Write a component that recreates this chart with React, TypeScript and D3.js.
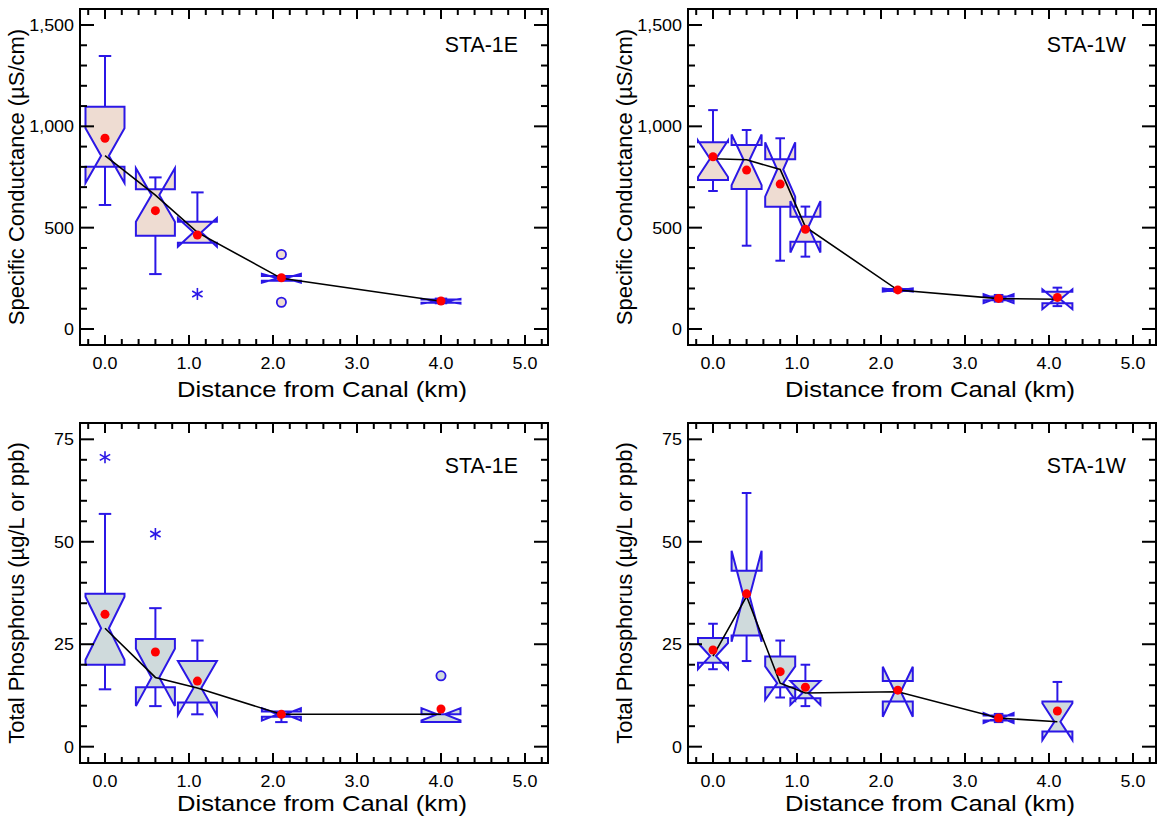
import React from 'react';
import * as d3 from 'd3';

// ---------- DATA ----------
// stats rows: [min, q1, median, q3, max, notchHalfWidth, mean]
const SC_E_DIST = [0.0, 0.6, 1.1, 2.1, 4.0];
const SC_E_STATS = [
  [612, 800, 855, 1097, 1347, 135, 941],
  [271, 460, 661, 690, 748, 132, 584],
  [426, 426, 477, 529, 674, 71, 464],
  [238, 238, 250, 262, 262, 22, 253],
  [127, 130, 137, 145, 150, 12, 138],
];
const SC_E_OUTLIERS: [number, number, string][] = [
  [1.1, 173, 'star'],
  [2.1, 368, 'circle'],
  [2.1, 132, 'circle'],
];

const SC_W_DIST = [0.0, 0.4, 0.8, 1.1, 2.2, 3.4, 4.1];
const SC_W_STATS = [
  [681, 735, 840, 921, 1080, 90, 850],
  [411, 691, 835, 908, 982, 125, 784],
  [337, 603, 787, 837, 941, 134, 715],
  [357, 431, 504, 554, 604, 127, 492],
  [185, 187, 192, 197, 199, 8, 193],
  [135, 142, 150, 160, 168, 22, 151],
  [113, 127, 147, 184, 204, 49, 156],
];
const SC_W_OUTLIERS: [number, number, string][] = [];

const TP_E_DIST = [0.0, 0.6, 1.1, 2.1, 4.0];
const TP_E_STATS = [
  [14, 20, 28.9, 37.3, 56.8, 7.7, 32.3],
  [9.9, 14.5, 16.9, 26.3, 33.8, 7.0, 23.1],
  [7.9, 10.8, 14.3, 20.9, 25.9, 6.6, 16.0],
  [6.0, 7.3, 7.9, 8.6, 8.6, 1.5, 7.9],
  [6.0, 6.0, 7.9, 7.9, 7.9, 1.5, 9.2],
];
const TP_E_OUTLIERS: [number, number, string][] = [
  [0.0, 70.6, 'star'],
  [0.6, 51.9, 'star'],
  [4.0, 17.3, 'circle'],
];

const TP_W_DIST = [0.0, 0.4, 0.8, 1.1, 2.2, 3.4, 4.1];
const TP_W_STATS = [
  [18.9, 20.5, 22.1, 26.5, 30.0, 3.2, 23.6],
  [20.9, 27.1, 36.7, 42.9, 61.9, 11.1, 37.3],
  [12.0, 14.5, 15.5, 22.0, 25.9, 4.1, 18.3],
  [9.9, 11.8, 13.1, 16.0, 20.0, 2.9, 14.5],
  [11.0, 11.0, 13.4, 16.0, 16.0, 6.1, 13.8],
  [6.0, 6.4, 7.0, 7.6, 8.0, 1.2, 7.0],
  [3.7, 3.7, 6.1, 11.0, 15.8, 4.5, 8.7],
];
const TP_W_OUTLIERS: [number, number, string][] = [];

const X_TICKS = [0, 1, 2, 3, 4, 5];
const X_TICK_LABELS = ['0.0', '1.0', '2.0', '3.0', '4.0', '5.0'];
const SC_TICKS = [0, 500, 1000, 1500];
const SC_TICK_LABELS = ['0', '500', '1,000', '1,500'];
const TP_TICKS = [0, 25, 50, 75];
const TP_TICK_LABELS = ['0', '25', '50', '75'];

const X_TITLE = 'Distance from Canal (km)';
const SC_TITLE = 'Specific Conductance (µS/cm)';
const TP_TITLE = 'Total Phosphorus (µg/L or ppb)';

// ---------- STYLE ----------
const FONT = '"Liberation Sans", Arial, Helvetica, sans-serif';
const BLUE = '#2b17e6';
const FILL_SC = '#eedcd2';
const FILL_TP = '#cfdadc';

function SText(props: {
  x: number; y: number; size: number; anchor?: string; sx?: number; rotate?: boolean; children: any;
}) {
  const { x, y, size, anchor = 'middle', sx = 1, rotate = false, children } = props;
  return (
    <g transform={`translate(${x},${y})${rotate ? ' rotate(-90)' : ''} scale(${sx},1)`}>
      <text x={0} y={0} textAnchor={anchor} fontSize={size} fontFamily={FONT} fill="#000">
        {children}
      </text>
    </g>
  );
}

type PanelProps = {
  left: number; top: number; width: number; height: number;
  yDomain: [number, number]; yMinor: number; yMax: number;
  yTicks: number[]; yTickLabels: string[];
  dists: number[]; stats: number[][]; outliers: [number, number, string][];
  fill: string; boxW: number; label: string; yTitle: string;
  titleOffset: number; labelOffset: number;
};

function Panel(p: PanelProps) {
  const x = d3.scaleLinear().domain([-0.2976, 5.274]).range([p.left, p.left + p.width]);
  const y = d3.scaleLinear().domain(p.yDomain).range([p.top + p.height, p.top]);
  const right = p.left + p.width;
  const bottom = p.top + p.height;

  const xMinor = d3.range(-1, 27).map((i) => +(i * 0.2).toFixed(4)).filter((v) => x(v) > p.left + 1 && x(v) < right - 1);
  const yMinor = d3.range(0, p.yMax + 1e-6, p.yMinor).filter((v) => y(v) > p.top + 1 && y(v) < bottom - 1);
  const isMajorX = (v: number) => Math.abs(v - Math.round(v)) < 1e-6;
  const isMajorY = (v: number) => p.yTicks.some((t) => Math.abs(t - v) < 1e-6);

  const line = d3.line<number>()
    .x((_, i) => x(p.dists[i]))
    .y((d) => y(d));
  const medians = p.stats.map((s) => s[2]);

  const cap = p.boxW * 0.32;

  return (
    <g>
      {/* whiskers */}
      {p.stats.map((s, i) => {
        const cx = x(p.dists[i]);
        const [mn, q1, , q3, mx] = s;
        return (
          <g key={'w' + i} stroke={BLUE} strokeWidth={2}>
            {mx > q3 && <line x1={cx} x2={cx} y1={y(q3)} y2={y(mx)} />}
            {mx > q3 && <line x1={cx - cap / 2} x2={cx + cap / 2} y1={y(mx)} y2={y(mx)} />}
            {mn < q1 && <line x1={cx} x2={cx} y1={y(q1)} y2={y(mn)} />}
            {mn < q1 && <line x1={cx - cap / 2} x2={cx + cap / 2} y1={y(mn)} y2={y(mn)} />}
          </g>
        );
      })}
      {/* notched boxes */}
      {p.stats.map((s, i) => {
        const cx = x(p.dists[i]);
        const [, q1, med, q3, , nh] = s;
        const x0 = cx - p.boxW / 2;
        const x1 = cx + p.boxW / 2;
        const ins = p.boxW * 0.4;
        const pts: [number, number][] = [
          [x0, y(q3)], [x0, y(med + nh)], [x0 + ins, y(med)], [x0, y(med - nh)], [x0, y(q1)],
          [x1, y(q1)], [x1, y(med - nh)], [x1 - ins, y(med)], [x1, y(med + nh)], [x1, y(q3)],
        ];
        return (
          <polygon key={'b' + i} points={pts.map((q) => q.join(',')).join(' ')}
            fill={p.fill} stroke={BLUE} strokeWidth={2} strokeLinejoin="miter" />
        );
      })}
      {/* outliers */}
      {p.outliers.map((o, i) => {
        const cx = x(o[0]);
        const cy = y(o[1]);
        if (o[2] === 'circle') {
          return <circle key={'o' + i} cx={cx} cy={cy} r={4.6} fill={p.fill} stroke={BLUE} strokeWidth={1.8} />;
        }
        const r = 6;
        return (
          <g key={'o' + i} stroke={BLUE} strokeWidth={1.6}>
            {[90, 30, 150].map((a) => {
              const rad = (a * Math.PI) / 180;
              return <line key={a} x1={cx - r * Math.cos(rad)} y1={cy - r * Math.sin(rad)} x2={cx + r * Math.cos(rad)} y2={cy + r * Math.sin(rad)} />;
            })}
          </g>
        );
      })}
      {/* median connecting line */}
      <path d={line(medians) || ''} fill="none" stroke="#000" strokeWidth={1.6} />
      {/* means */}
      {p.stats.map((s, i) => (
        <circle key={'m' + i} cx={x(p.dists[i])} cy={y(s[6])} r={4.5} fill="#ff0000" />
      ))}

      {/* frame */}
      <rect x={p.left} y={p.top} width={p.width} height={p.height} fill="none" stroke="#000" strokeWidth={2} />
      {/* x ticks */}
      {xMinor.map((v) => {
        const len = isMajorX(v) ? 10 : 6;
        const xx = x(v);
        return (
          <g key={'xt' + v} stroke="#000" strokeWidth={2}>
            <line x1={xx} x2={xx} y1={bottom} y2={bottom - len} />
            <line x1={xx} x2={xx} y1={p.top} y2={p.top + len} />
          </g>
        );
      })}
      {/* y ticks */}
      {yMinor.map((v) => {
        const len = isMajorY(v) ? 14 : 7;
        const yy = y(v);
        return (
          <g key={'yt' + v} stroke="#000" strokeWidth={2}>
            <line x1={p.left} x2={p.left + len} y1={yy} y2={yy} />
            <line x1={right} x2={right - len} y1={yy} y2={yy} />
          </g>
        );
      })}
      {/* tick labels */}
      {X_TICKS.map((v, i) => (
        <SText key={'xl' + v} x={x(v)} y={bottom + 24} size={16} sx={1.12}>{X_TICK_LABELS[i]}</SText>
      ))}
      {p.yTicks.map((v, i) => (
        <SText key={'yl' + v} x={p.left - 6} y={y(v) + 6} size={16} sx={1.12} anchor="end">{p.yTickLabels[i]}</SText>
      ))}
      {/* titles */}
      <SText x={p.left + p.width / 2 + 8} y={bottom + p.titleOffset} size={21.5} sx={1.19}>{X_TITLE}</SText>
      <SText x={p.left - 56} y={p.top + p.height / 2} size={22} rotate>{p.yTitle}</SText>
      <SText x={right - 30} y={p.top + p.labelOffset} size={23} sx={0.93} anchor="end">{p.label}</SText>
    </g>
  );
}

export default function App() {
  return (
    <svg width={1157} height={818} style={{ position: 'absolute', left: 0, top: 0, background: '#fff' }}>
      <rect x={0} y={0} width={1157} height={818} fill="#fff" />
      <Panel left={80} top={9} width={468} height={336} yDomain={[-78.9, 1578.9]} yMinor={100} yMax={1500}
        yTicks={SC_TICKS} yTickLabels={SC_TICK_LABELS} dists={SC_E_DIST} stats={SC_E_STATS}
        outliers={SC_E_OUTLIERS} fill={FILL_SC} boxW={39} label="STA-1E" yTitle={SC_TITLE}
        titleOffset={52} labelOffset={43} />
      <Panel left={688} top={9} width={468} height={336} yDomain={[-78.9, 1578.9]} yMinor={100} yMax={1500}
        yTicks={SC_TICKS} yTickLabels={SC_TICK_LABELS} dists={SC_W_DIST} stats={SC_W_STATS}
        outliers={SC_W_OUTLIERS} fill={FILL_SC} boxW={30} label="STA-1W" yTitle={SC_TITLE}
        titleOffset={52} labelOffset={43} />
      <Panel left={80} top={423} width={468} height={340} yDomain={[-3.98, 78.98]} yMinor={5} yMax={75}
        yTicks={TP_TICKS} yTickLabels={TP_TICK_LABELS} dists={TP_E_DIST} stats={TP_E_STATS}
        outliers={TP_E_OUTLIERS} fill={FILL_TP} boxW={39} label="STA-1E" yTitle={TP_TITLE}
        titleOffset={48} labelOffset={50} />
      <Panel left={688} top={423} width={468} height={340} yDomain={[-3.98, 78.98]} yMinor={5} yMax={75}
        yTicks={TP_TICKS} yTickLabels={TP_TICK_LABELS} dists={TP_W_DIST} stats={TP_W_STATS}
        outliers={TP_W_OUTLIERS} fill={FILL_TP} boxW={30} label="STA-1W" yTitle={TP_TITLE}
        titleOffset={48} labelOffset={50} />
    </svg>
  );
}
